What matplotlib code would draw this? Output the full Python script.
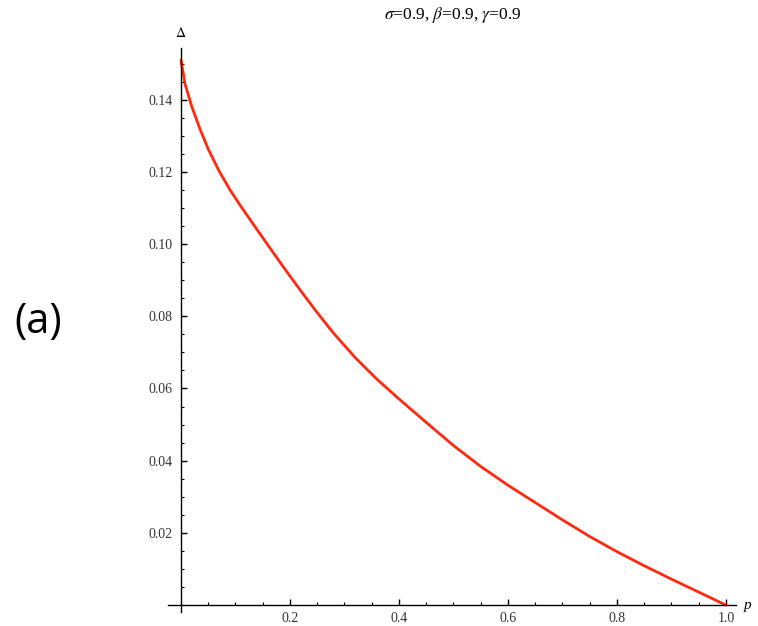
import matplotlib
matplotlib.use("Agg")
import matplotlib.pyplot as plt
from matplotlib.ticker import MultipleLocator, FixedLocator

# values
p = [0.0, 0.0075, 0.02, 0.035, 0.05, 0.07, 0.09, 0.11, 0.135, 0.16, 0.19,
     0.22, 0.25, 0.28, 0.32, 0.36, 0.40, 0.45, 0.50, 0.55, 0.60, 0.65,
     0.70, 0.75, 0.80, 0.85, 0.90, 0.95, 1.0]
delta = [0.1510, 0.1443, 0.1380, 0.1318, 0.1263, 0.1202, 0.1150, 0.1104,
         0.1050, 0.0996, 0.0932, 0.0870, 0.0810, 0.0753, 0.0685, 0.0625,
         0.0571, 0.0506, 0.0442, 0.0384, 0.0332, 0.0284, 0.0236, 0.0190,
         0.0148, 0.0109, 0.0072, 0.0036, 0.0]

x_ticks = [0.2, 0.4, 0.6, 0.8, 1.0]
y_ticks = [0.02, 0.04, 0.06, 0.08, 0.10, 0.12, 0.14]

plt.rcParams['font.family'] = ['Liberation Serif', 'DejaVu Serif']
plt.rcParams['mathtext.fontset'] = 'stix'

fig = plt.figure(figsize=(7.58, 6.26), dpi=100)
ax = fig.add_axes([167.6 / 758, 1 - 612 / 626, (735.5 - 167.6) / 758, (612 - 48) / 626])

ax.plot(p, delta, color='#ff2a10', lw=2.0, solid_capstyle='round',
        solid_joinstyle='round')

ax.set_xlim(-0.0245, 1.0175)
ax.set_ylim(-0.0019, 0.1543)

# mathematica style axes through the origin
ax.spines['left'].set_position(('data', 0))
ax.spines['bottom'].set_position(('data', 0))
ax.spines['top'].set_visible(False)
ax.spines['right'].set_visible(False)
for s in ['left', 'bottom']:
    ax.spines[s].set_linewidth(1.0)

ax.xaxis.set_major_locator(FixedLocator(x_ticks))
ax.yaxis.set_major_locator(FixedLocator(y_ticks))
ax.xaxis.set_minor_locator(MultipleLocator(0.05))
ax.yaxis.set_minor_locator(MultipleLocator(0.005))
ax.set_xticklabels(['%.1f' % v for v in x_ticks])
ax.set_yticklabels(['%.2f' % v for v in y_ticks])

ax.tick_params(which='major', direction='in', length=4, width=1.0,
               labelsize=10, labelcolor='#333333')
ax.tick_params(which='minor', direction='in', length=2.4, width=0.8)
ax.tick_params(axis='x', pad=5)
ax.tick_params(axis='y', pad=6)

ax.text(1.033, 0.0, 'p', style='italic', fontsize=11, va='center', ha='left',
        transform=ax.transData, clip_on=False)
fig.text(181 / 758, 1 - 33 / 626, r'$\Delta$', fontsize=10, ha='center', va='center')

fig.text(453 / 758, 1 - 15 / 626, r'$\sigma$=0.9, $\beta$=0.9, $\gamma$=0.9',
         fontsize=12.5, ha='center', va='center')

fig.text(38 / 758, 1 - 322 / 626, '(a)', fontsize=30, ha='center', va='center',
         family=['Open Sans', 'DejaVu Sans'])

fig.savefig('out.png', dpi=100)
